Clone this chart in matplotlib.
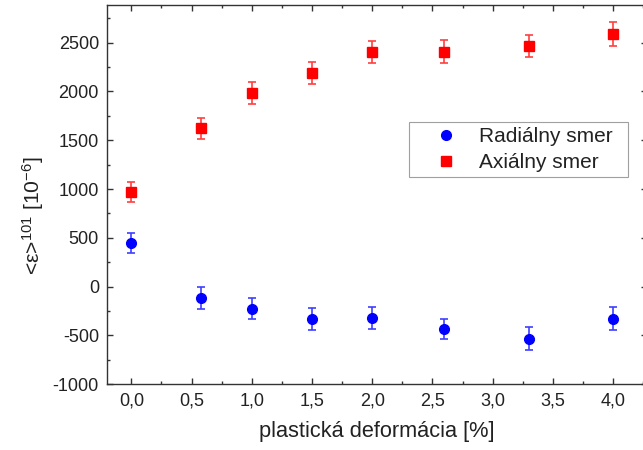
import matplotlib
matplotlib.use("Agg")
import matplotlib.pyplot as plt
from matplotlib.ticker import MultipleLocator, FuncFormatter
from matplotlib.lines import Line2D

plt.rcParams['font.family'] = ['Liberation Sans', 'DejaVu Sans']
plt.rcParams['mathtext.fontset'] = 'custom'
plt.rcParams['mathtext.rm'] = 'Liberation Sans'
plt.rcParams['mathtext.it'] = 'Liberation Sans:italic'
plt.rcParams['axes.unicode_minus'] = False

# data
deformation = [0.0, 0.58, 1.0, 1.5, 2.0, 2.6, 3.3, 4.0]
radial = [445, -119, -225, -334, -318, -430, -533, -328]
radial_err = [100, 113, 111, 111, 114, 104, 118, 118]
axial = [973, 1623, 1985, 2190, 2400, 2408, 2466, 2589]
axial_err = [102, 108, 110, 112, 112, 116, 117, 121]

xticks = [0.0, 0.5, 1.0, 1.5, 2.0, 2.5, 3.0, 3.5, 4.0]
yticks = [-1000, -500, 0, 500, 1000, 1500, 2000, 2500]

fig = plt.figure(figsize=(6.43, 4.5), dpi=100)
ax = fig.add_axes([0.1669, 0.146, 0.8389, 0.843])

ax.errorbar(deformation, radial, yerr=radial_err, fmt='o', color='#0000ff',
            ecolor='#3f3fff', elinewidth=1.2, capsize=3, capthick=1.2,
            markersize=7, zorder=3)
ax.errorbar(deformation, axial, yerr=axial_err, fmt='s', color='#ff0000',
            ecolor='#ff3f3f', elinewidth=1.2, capsize=3, capthick=1.2,
            markersize=6.5, zorder=3)

ax.set_xlim(-0.2, 4.28)
ax.set_ylim(-1000, 2886)
ax.set_xticks(xticks)
ax.set_yticks(yticks)
ax.xaxis.set_minor_locator(MultipleLocator(0.25))
ax.yaxis.set_minor_locator(MultipleLocator(250))
ax.xaxis.set_major_formatter(FuncFormatter(lambda v, p: f"{v:.1f}".replace('.', ',')))
ax.yaxis.set_major_formatter(FuncFormatter(lambda v, p: f"{int(round(v))}"))

ax.tick_params(which='both', direction='in', top=True, right=True,
               colors='#333333', labelcolor='#222222')
ax.tick_params(which='major', length=4.5, width=1.0, labelsize=13, pad=6)
ax.tick_params(which='minor', length=2.5, width=1.0)
for s in ax.spines.values():
    s.set_color('#333333')
    s.set_linewidth(1.0)

ax.set_xlabel('plastická deformácia [%]', fontsize=15.7, color='#222222', labelpad=8)
ax.set_ylabel(r'<ε>$^{101}$ [10$^{-6}$]', fontsize=15.2, color='#222222')
ax.yaxis.set_label_coords(-0.114, 0.445)

handles = [Line2D([], [], ls='none', marker='o', color='#0000ff', markersize=7),
           Line2D([], [], ls='none', marker='s', color='#ff0000', markersize=6.5)]
labels = ['Radiálny smer', 'Axiálny smer']
leg = ax.legend(handles, labels, loc='upper left',
                bbox_to_anchor=(0.559, 0.6915, 0.406, 0.0),
                mode='expand', fontsize=15, frameon=True, fancybox=False,
                edgecolor='#888888', handletextpad=0.0, borderpad=0.25,
                labelspacing=0.32, handlelength=3.1, borderaxespad=0)
leg.get_frame().set_linewidth(0.8)
for t in leg.get_texts():
    t.set_color('#222222')

fig.savefig('out.png', dpi=100)
